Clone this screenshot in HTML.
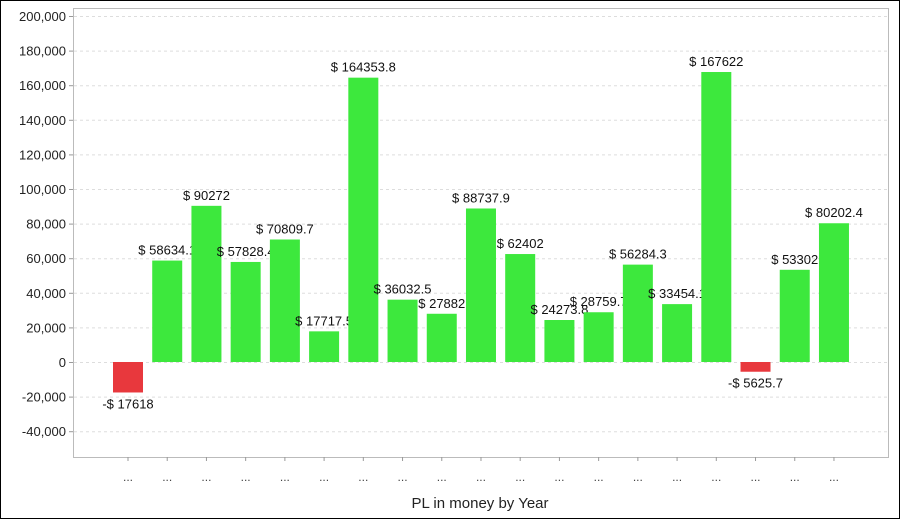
<!DOCTYPE html>
<html><head><meta charset="utf-8"><style>
html,body{margin:0;padding:0;background:#fff}
svg{display:block;font-family:"Liberation Sans",Arial,sans-serif}
</style></head><body>
<svg id="c" width="900" height="519">
<rect x="0.5" y="0.5" width="899" height="518" fill="#fff" stroke="#000"/>
<rect x="73.5" y="8.5" width="815" height="449" fill="#fff" stroke="#bbb"/>
<g id="grid"></g><g id="yax"></g><g id="bars"></g><g id="xax"></g>
<text x="480" y="508" font-size="15" text-anchor="middle" fill="#222">PL in money by Year</text>
</svg>
<script>
const values=[-17618,58634.1,90272,57828.4,70809.7,17717.5,164353.8,36032.5,27882,88737.9,62402,24273.8,28759.7,56284.3,33454.1,167622,-5625.7,53302,80202.4];
const labels=["-$ 17618","$ 58634.1","$ 90272","$ 57828.4","$ 70809.7","$ 17717.5","$ 164353.8","$ 36032.5","$ 27882","$ 88737.9","$ 62402","$ 24273.8","$ 28759.7","$ 56284.3","$ 33454.1","$ 167622","-$ 5625.7","$ 53302","$ 80202.4"];
const yTicks=[200000,180000,160000,140000,120000,100000,80000,60000,40000,20000,0,-20000,-40000];
const NS="http://www.w3.org/2000/svg";
const y=v=>362-v*(346/200000);
const x=i=>128+i*39.22;
const bw=30;
function mk(t,a,p){const e=document.createElementNS(NS,t);for(const k in a)e.setAttribute(k,a[k]);p.appendChild(e);return e;}
const grid=document.getElementById('grid'),yax=document.getElementById('yax'),bars=document.getElementById('bars'),xax=document.getElementById('xax');
yTicks.forEach(t=>{
 const g=mk('line',{x1:74,x2:888,y1:y(t)+0.5,y2:y(t)+0.5,stroke:'#ddd','stroke-dasharray':'3,3'},grid);
 
 
 mk('line',{x1:69,x2:73,y1:y(t)+0.5,y2:y(t)+0.5,stroke:'#999'},yax);
 const tx=mk('text',{x:66,y:y(t)+5,'font-size':13,'text-anchor':'end',fill:'#222'},yax);
 tx.textContent=t.toLocaleString('en-US');
 
 
});
values.forEach((v,i)=>{
 const top=Math.min(y(v),y(0)),h=Math.abs(y(v)-y(0));
 const r=mk('rect',{x:x(i)-bw/2,y:top,width:bw,height:h,fill:v<0?'#e8383d':'#3de83d'},bars);
 
 
 const ly=v<0?y(v)+16:y(v)-6;
 const t=mk('text',{x:x(i),y:ly,'font-size':13,'text-anchor':'middle',fill:'#111'},bars);
 t.textContent=labels[i];
 
 
 mk('line',{x1:x(i),x2:x(i),y1:457,y2:461,stroke:'#999'},xax);
 const c=mk('text',{x:x(i),y:481,'font-size':12,'text-anchor':'middle',fill:'#444'},xax);
 c.textContent='...';
 
 
});
</script>
</body></html>
